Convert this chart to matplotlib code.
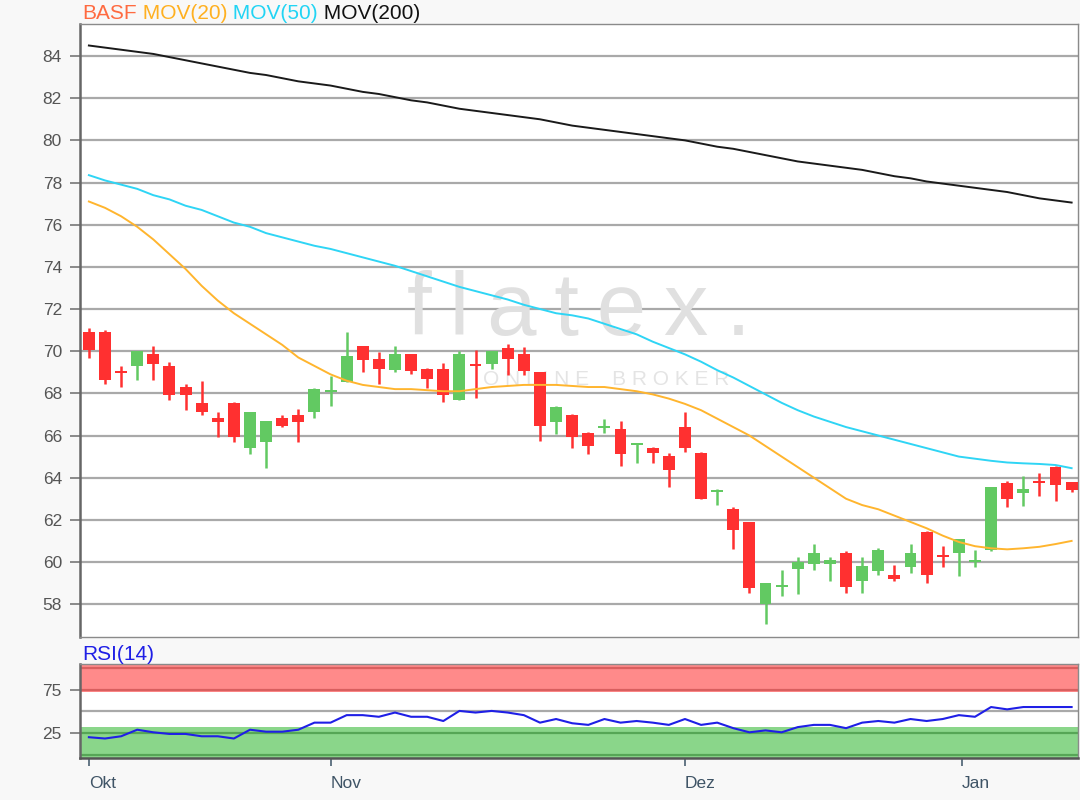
import numpy as np
import matplotlib.pyplot as plt

plt.rcParams['font.family'] = ['Liberation Sans', 'DejaVu Sans']

# daily candles (Okt .. Jan)
opens = [70.9, 70.9, 69.0, 69.3, 69.85, 69.3, 68.3, 67.55, 66.85, 67.55,
         65.4, 65.7, 66.85, 66.95, 67.1, 68.05, 68.55, 70.25, 69.65, 69.1,
         69.85, 69.15, 69.15, 67.7, 69.35, 69.4, 70.15, 69.85, 69.0, 66.65,
         66.95, 66.1, 66.35, 66.3, 65.55, 65.4, 65.05, 66.4, 65.15, 63.3,
         62.5, 61.9, 58.0, 58.8, 59.65, 59.9, 59.9, 60.45, 59.1, 59.55,
         59.4, 59.75, 61.4, 60.3, 60.45, 60.0, 60.55, 63.75, 63.25, 63.8,
         64.5, 63.8]
closes = [70.05, 68.65, 68.95, 70.0, 69.4, 67.9, 67.9, 67.1, 66.65, 65.95,
          67.1, 66.7, 66.45, 66.65, 68.2, 68.1, 69.75, 69.6, 69.15, 69.85,
          69.05, 68.7, 67.9, 69.85, 69.3, 70.0, 69.65, 69.05, 66.45, 67.35,
          65.95, 65.5, 66.4, 65.1, 65.6, 65.15, 64.35, 65.4, 63.0, 63.4,
          61.5, 58.75, 59.0, 58.85, 60.0, 60.45, 60.1, 58.8, 59.8, 60.55,
          59.2, 60.45, 59.4, 60.25, 61.1, 60.05, 63.55, 63.0, 63.45, 63.75,
          63.65, 63.4]
highs = [71.1, 71.0, 69.3, 70.0, 70.25, 69.5, 68.45, 68.6, 67.1, 67.6,
         67.1, 66.7, 66.95, 67.25, 68.25, 68.8, 70.9, 70.25, 69.95, 70.25,
         69.85, 69.2, 69.45, 70.0, 70.05, 70.0, 70.35, 70.2, 69.0, 67.4,
         67.0, 66.15, 66.8, 66.7, 65.65, 65.45, 65.15, 67.1, 65.2, 63.45,
         62.6, 61.9, 59.0, 59.6, 60.25, 60.85, 60.25, 60.5, 60.25, 60.65,
         59.85, 60.85, 61.45, 60.75, 61.1, 60.55, 63.55, 63.85, 64.1, 64.2,
         64.55, 63.8]
lows = [69.7, 68.45, 68.3, 68.65, 68.65, 67.7, 67.2, 66.95, 65.95, 65.7,
        65.1, 64.45, 66.4, 65.7, 66.85, 67.4, 68.55, 69.0, 68.45, 69.0,
        68.9, 68.25, 67.6, 67.7, 67.8, 69.15, 68.85, 68.85, 65.75, 66.05,
        65.4, 65.1, 66.1, 64.55, 64.7, 64.7, 63.55, 65.2, 63.0, 62.7,
        60.6, 58.55, 57.05, 58.4, 58.5, 59.6, 59.1, 58.55, 58.55, 59.4,
        59.1, 59.5, 59.0, 59.75, 59.35, 59.75, 60.5, 62.6, 62.65, 63.15,
        62.9, 63.3]

mov20 = [77.1, 76.8, 76.4, 75.9, 75.3, 74.6, 73.9, 73.1, 72.4, 71.8,
         71.3, 70.8, 70.3, 69.7, 69.3, 68.9, 68.6, 68.4, 68.3, 68.2,
         68.2, 68.15, 68.1, 68.1, 68.2, 68.3, 68.35, 68.4, 68.4, 68.4,
         68.35, 68.3, 68.3, 68.2, 68.1, 67.95, 67.75, 67.5, 67.2, 66.8,
         66.4, 66.0, 65.5, 65.0, 64.5, 64.0, 63.5, 63.0, 62.7, 62.5,
         62.2, 61.9, 61.6, 61.25, 60.95, 60.75, 60.65, 60.6, 60.65, 60.72,
         60.85, 61.0]
mov50 = [78.35, 78.1, 77.9, 77.7, 77.4, 77.2, 76.9, 76.7, 76.4, 76.1,
         75.9, 75.6, 75.4, 75.2, 75.0, 74.85, 74.65, 74.45, 74.25, 74.05,
         73.8, 73.55, 73.3, 73.05, 72.85, 72.65, 72.45, 72.2, 72.0, 71.8,
         71.7, 71.55, 71.3, 71.05, 70.8, 70.45, 70.15, 69.85, 69.5, 69.1,
         68.75, 68.35, 67.95, 67.55, 67.2, 66.9, 66.65, 66.4, 66.2, 66.0,
         65.8, 65.6, 65.4, 65.2, 65.0, 64.9, 64.8, 64.72, 64.68, 64.65,
         64.6, 64.45]
mov200 = [84.5, 84.4, 84.3, 84.2, 84.1, 83.95, 83.8, 83.65, 83.5, 83.35,
          83.2, 83.1, 82.95, 82.8, 82.7, 82.6, 82.45, 82.3, 82.2, 82.05,
          81.9, 81.8, 81.65, 81.5, 81.4, 81.3, 81.2, 81.1, 81.0, 80.85,
          80.7, 80.6, 80.5, 80.4, 80.3, 80.2, 80.1, 80.0, 79.85, 79.7,
          79.6, 79.45, 79.3, 79.15, 79.0, 78.9, 78.8, 78.7, 78.6, 78.45,
          78.3, 78.2, 78.05, 77.95, 77.85, 77.75, 77.65, 77.55, 77.4, 77.25,
          77.15, 77.05]
rsi = [20.1, 18.6, 21.2, 28.8, 25.8, 23.9, 23.9, 21.2, 21.2, 18.6,
       28.8, 26.5, 26.5, 28.8, 37.0, 37.0, 45.7, 45.7, 43.8, 48.7,
       43.8, 43.8, 38.9, 50.6, 48.7, 50.6, 48.7, 45.7, 37.0, 41.2,
       36.3, 34.4, 41.2, 37.0, 38.9, 37.0, 34.4, 41.2, 34.4, 37.0,
       30.6, 25.8, 28.0, 25.8, 31.8, 34.4, 34.4, 30.6, 37.0, 38.9,
       37.0, 41.2, 38.9, 41.2, 45.7, 43.8, 55.1, 52.4, 55.1, 55.1,
       55.1, 55.1]

month_labels = ['Okt', 'Nov', 'Dez', 'Jan']
month_pos = [0, 15, 37, 54.2]
price_ticks = list(range(58, 85, 2))
rsi_ticks = [25, 75]

RED = '#ff3030'
GREEN = '#62c962'
GRID = '#a9a9a9'
FS = 15

fig = plt.figure(figsize=(10.8, 8), dpi=100, facecolor='#f8f8f8')
ax = fig.add_axes([0.0741, 0.2037, 0.9241, 0.7663])
ax2 = fig.add_axes([0.0741, 0.0525, 0.9241, 0.1175])

x = np.arange(len(opens))
o = np.array(opens)
c = np.array(closes)
cols = [RED if cc < oo else GREEN for oo, cc in zip(o, c)]

# candles
ax.vlines(x, lows, highs, colors=cols, lw=1.8, zorder=3)
body = np.maximum(np.abs(c - o), 0.1)
ax.bar(x, body, bottom=np.minimum(o, c), width=0.74, color=cols, zorder=3)

# moving averages
ax.plot(x, mov20, color='#ffb52e', lw=1.4, zorder=4)
ax.plot(x, mov50, color='#2fd5f5', lw=1.4, zorder=4)
ax.plot(x, mov200, color='#1a1a1a', lw=1.4, zorder=4)

# watermark
ax.text(0.5, 0.53, 'f\u2009l\u2009a\u2009t\u2009e\u2009x\u2009.',
        transform=ax.transAxes, fontsize=64,
        color='#e0e0e0', ha='center', va='center', zorder=1)
ax.text(0.527, 0.42, 'O N L I N E    B R O K E R', transform=ax.transAxes,
        fontsize=15, color='#e4e4e4', ha='center', va='center', zorder=1)

ax.set_xlim(-0.55, 61.4)
ax.set_ylim(56.44, 85.52)
ax.set_yticks(price_ticks)
ax.set_yticklabels([str(t) for t in price_ticks])
ax.set_xticks([])
ax.yaxis.grid(True, color=GRID, lw=1.6)
ax.set_axisbelow(True)
ax.tick_params(axis='y', colors='#777777', labelcolor='#555555',
               labelsize=12.5, length=7, width=1.2, pad=6)
for s in ax.spines.values():
    s.set_color('#8a8a8a')
    s.set_linewidth(1.0)
ax.spines['left'].set_color('#666666')
ax.spines['left'].set_linewidth(1.8)

# title in colours
t1 = ax.text(0.002, 1.002, 'BASF', transform=ax.transAxes, fontsize=FS,
             color='#ff6a40', va='bottom', ha='left')
t2 = ax.annotate(' MOV(20)', xy=(1, 0), xycoords=t1, va='bottom',
                 fontsize=FS, color='#ffb020')
t3 = ax.annotate(' MOV(50)', xy=(1, 0), xycoords=t2, va='bottom',
                 fontsize=FS, color='#22d4f4')
ax.annotate(' MOV(200)', xy=(1, 0), xycoords=t3, va='bottom',
            fontsize=FS, color='#111111')

# RSI panel
ax2.axhspan(72, 106, color='#ff8a8a', lw=0)
ax2.axhspan(-6, 32, color='#8ad68a', lw=0)
ax2.axhline(100, color='#d95f5f', lw=1.6)
ax2.axhline(75, color='#d95f5f', lw=1.6)
ax2.axhline(25, color='#56a656', lw=1.6)
ax2.axhline(0, color='#56a656', lw=1.6)
ax2.axhline(50, color=GRID, lw=1.6)
ax2.plot(x, rsi, color='#1f1fe6', lw=1.5)
ax2.set_xlim(-0.55, 61.4)
ax2.set_ylim(-4, 105)
ax2.set_yticks(rsi_ticks)
ax2.set_yticklabels([str(t) for t in rsi_ticks])
ax2.set_xticks(month_pos)
ax2.set_xticklabels(month_labels, ha='left')
ax2.tick_params(axis='y', colors='#777777', labelcolor='#555555',
                labelsize=12.5, length=7, width=1.2, pad=6)
ax2.tick_params(axis='x', colors='#4a6072', labelcolor='#3f5466',
                labelsize=12.5, length=6, width=1.2, pad=7)
for s in ax2.spines.values():
    s.set_color('#8a8a8a')
    s.set_linewidth(1.0)
ax2.spines['left'].set_color('#666666')
ax2.spines['left'].set_linewidth(1.8)
ax2.spines['bottom'].set_color('#555555')
ax2.spines['bottom'].set_linewidth(1.8)
ax2.text(0.002, 1.005, 'RSI(14)', transform=ax2.transAxes, fontsize=FS,
         color='#1f1fe6', va='bottom', ha='left')

plt.savefig('out.png', dpi=100, facecolor=fig.get_facecolor())
